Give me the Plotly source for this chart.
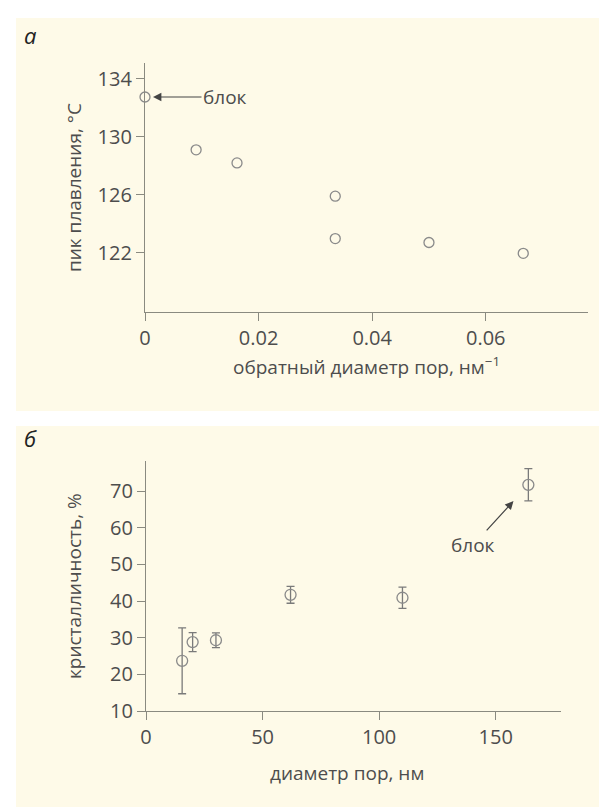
import plotly.graph_objects as go

W, H = 607, 807

# Panel a data
inv_diam = [0, 0.009, 0.0162, 0.0335, 0.0335, 0.050, 0.0666]
melt_peak = [132.75, 129.1, 128.2, 125.9, 122.97, 122.7, 121.95]
a_xticks = [0, 0.02, 0.04, 0.06]
a_xticktext = ["0", "0.02", "0.04", "0.06"]
a_yticks = [122, 126, 130, 134]

# Panel b data
pore_diam = [15.5, 20, 30, 62, 110, 164]
crystallinity = [23.7, 28.8, 29.3, 41.7, 40.9, 71.7]
cryst_err = [9.0, 2.6, 2.0, 2.3, 2.9, 4.4]
b_xticks = [0, 50, 100, 150]
b_yticks = [10, 20, 30, 40, 50, 60, 70]

BG = "#FEFAE8"
TXT = "#4d4d4d"
AX = "#8a8a80"
MK = "#8a8a8a"
FONT = "Open Sans"

def px_x(p):
    return p / W

def px_y(p):
    return 1 - p / H

fig = go.Figure()

fig.add_trace(go.Scatter(
    x=inv_diam, y=melt_peak, mode="markers", xaxis="x", yaxis="y",
    marker=dict(symbol="circle-open", size=10, color=MK, line=dict(width=1.3, color=MK)),
    cliponaxis=False, showlegend=False,
))

fig.add_trace(go.Scatter(
    x=pore_diam, y=crystallinity, mode="markers", xaxis="x2", yaxis="y2",
    marker=dict(symbol="circle-open", size=11, color=MK, line=dict(width=1.3, color=MK)),
    error_y=dict(type="data", array=cryst_err, visible=True, color="#7a7a7a", thickness=1.3, width=4),
    cliponaxis=False, showlegend=False,
))

axis_common = dict(
    showline=True, linecolor=AX, linewidth=1.3, showgrid=False, zeroline=False,
    ticks="outside", ticklen=8, tickwidth=1.2, tickcolor=AX,
    tickfont=dict(family=FONT, size=20, color=TXT), automargin=False,
)

fig.update_layout(
    width=W, height=H,
    margin=dict(l=0, r=0, t=0, b=0),
    paper_bgcolor="white", plot_bgcolor="rgba(0,0,0,0)",
    template="none",
    font=dict(family=FONT, color=TXT),
    xaxis=dict(domain=[px_x(137), px_x(580)], range=[0, 0.078], anchor="y",
               tickvals=a_xticks, ticktext=a_xticktext, **axis_common),
    yaxis=dict(domain=[px_y(304), px_y(55)], range=[117.9, 135.1], anchor="x",
               tickvals=a_yticks, **axis_common),
    xaxis2=dict(domain=[px_x(138), px_x(553)], range=[0, 178], anchor="y2",
                tickvals=b_xticks, **axis_common),
    yaxis2=dict(domain=[px_y(703), px_y(453)], range=[10, 78.2], anchor="x2",
                tickvals=b_yticks, **axis_common),
    shapes=[
        dict(type="rect", xref="paper", yref="paper", layer="below",
             x0=px_x(8), x1=px_x(607), y0=px_y(403), y1=px_y(10),
             fillcolor=BG, line=dict(width=0)),
        dict(type="rect", xref="paper", yref="paper", layer="below",
             x0=px_x(8), x1=px_x(607), y0=px_y(807), y1=px_y(418),
             fillcolor=BG, line=dict(width=0)),
    ],
)

ann = []
# panel letters
ann.append(dict(text="<i>а</i>", xref="paper", yref="paper", x=px_x(22), y=px_y(27),
                showarrow=False, font=dict(family=FONT, size=22, color="#222"),
                xanchor="center", yanchor="middle"))
ann.append(dict(text="<i>б</i>", xref="paper", yref="paper", x=px_x(22), y=px_y(430),
                showarrow=False, font=dict(family=FONT, size=22, color="#222"),
                xanchor="center", yanchor="middle"))
# axis titles
ann.append(dict(text="обратный диаметр пор, нм<sup>−1</sup>", xref="paper", yref="paper",
                x=px_x(358), y=px_y(358), showarrow=False,
                font=dict(family=FONT, size=19, color=TXT), xanchor="center", yanchor="middle"))
ann.append(dict(text="пик плавления, °C", xref="paper", yref="paper", textangle=-90,
                x=px_x(66), y=px_y(180), showarrow=False,
                font=dict(family=FONT, size=19, color=TXT), xanchor="center", yanchor="middle"))
ann.append(dict(text="диаметр пор, нм", xref="paper", yref="paper",
                x=px_x(339), y=px_y(765), showarrow=False,
                font=dict(family=FONT, size=19, color=TXT), xanchor="center", yanchor="middle"))
ann.append(dict(text="кристалличность, %", xref="paper", yref="paper", textangle=-90,
                x=px_x(66), y=px_y(578), showarrow=False,
                font=dict(family=FONT, size=19, color=TXT), xanchor="center", yanchor="middle"))
# "блок" callouts
ann.append(dict(text="блок", xref="x", yref="y", x=inv_diam[0], y=melt_peak[0],
                ax=80, ay=0, showarrow=True, arrowhead=2, arrowsize=1.4, arrowwidth=1.2,
                arrowcolor="#444", standoff=8, font=dict(family=FONT, size=19, color=TXT)))
ann.append(dict(text="блок", xref="x2", yref="y2", x=pore_diam[-1], y=crystallinity[-1],
                ax=-55, ay=60, showarrow=True, arrowhead=2, arrowsize=1.4, arrowwidth=1.2,
                arrowcolor="#444", standoff=22, font=dict(family=FONT, size=19, color=TXT)))
fig.update_layout(annotations=ann)

fig.write_html("out.html")
